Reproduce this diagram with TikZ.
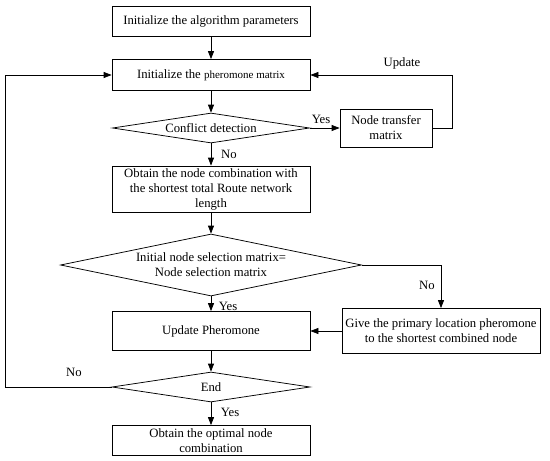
\documentclass[tikz,border=0pt]{standalone}
\usepackage{fontspec}
\setmainfont{Liberation Serif}
\usetikzlibrary{shapes.geometric,arrows.meta}
\tikzset{
  procbox/.style={draw,rectangle,minimum width=198pt,align=center,inner sep=1pt,font=\fontsize{12.7}{15}\selectfont},
  decis/.style={draw,diamond,aspect=6,inner sep=0pt,align=center,font=\fontsize{12.7}{15}\selectfont},
  lbl/.style={inner sep=1pt,font=\fontsize{12.7}{15}\selectfont}
}
\begin{document}
\begin{tikzpicture}[x=1pt,y=-1pt,>={Triangle[length=8pt,width=6pt]},line width=0.75pt]
\useasboundingbox (0,0) rectangle (550,461);
\node[procbox,minimum height=30pt] (init) at (211,21) {Initialize the algorithm parameters};
\node[procbox,minimum height=31pt] (pher) at (211,75) {Initialize the {\fontsize{11}{13}\selectfont pheromone matrix}};
\node[decis,minimum width=197pt,minimum height=30pt] (conf) at (211,128) {Conflict detection};
\node[procbox,minimum width=92pt,minimum height=38pt] (trans) at (386,128) {Node transfer\\matrix};
\node[procbox,minimum height=46pt] (comb) at (211,189) {Obtain the node combination with\\the shortest total Route network\\length};
\node[decis,minimum width=301pt,minimum height=62pt] (sel) at (211,265) {Initial node selection matrix=\\Node selection matrix};
\node[procbox,minimum height=39pt] (upd) at (211,331) {Update Pheromone};
\node[procbox,minimum height=45pt] (give) at (441,331) {Give the primary location pheromone\\to the shortest combined node};
\node[decis,minimum width=198pt,minimum height=30pt] (endq) at (211,387) {End};
\node[procbox,minimum height=30pt] (opt) at (211,440.5) {Obtain the optimal node\\combination};
\foreach \A/\B in {init/pher,pher/conf,conf/trans,conf/comb,comb/sel,sel/upd,give/upd,upd/endq,endq/opt}{\draw[->] (\A) -- (\B);}
\draw[->] (trans.east) -- ++(20,0) |- (pher.east);
\draw[->] (sel.east) -| (give.north);
\draw[->] (endq.west) -- (5.5,387) |- (pher.west);
\node[lbl] (lyes1) at (321,119) {Yes};
\node[lbl] (lupd) at (402,63) {Update};
\node[lbl] (lno1) at (229,154) {No};
\node[lbl] (lno2) at (427,285) {No};
\node[lbl] (lyes2) at (228,306) {Yes};
\node[lbl] (lno3) at (74,372) {No};
\node[lbl] (lyes3) at (230,412.5) {Yes};
\end{tikzpicture}
\end{document}
